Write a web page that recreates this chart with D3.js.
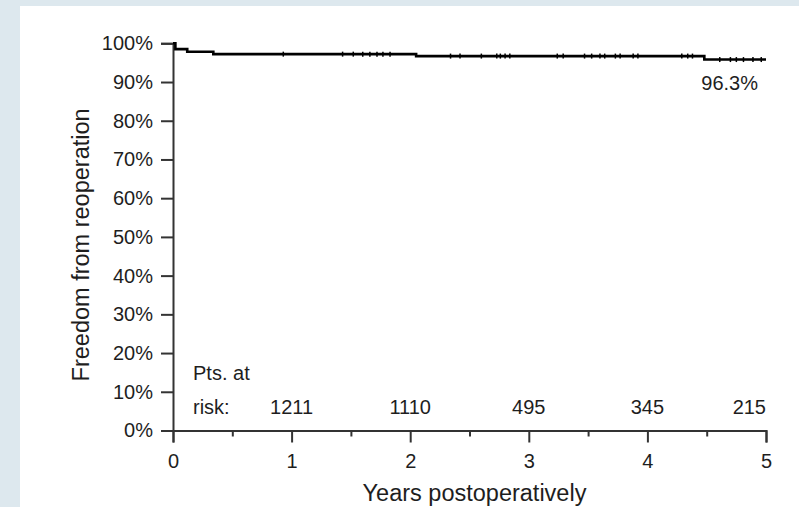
<!DOCTYPE html>
<html>
<head>
<meta charset="utf-8">
<script src="https://cdn.jsdelivr.net/npm/d3@7"></script>
<style>
  body { margin: 0; background: #dde8ee; }
  text { font-family: "Liberation Sans", Arial, sans-serif; fill: #1e1e1e; }
</style>
</head>
<body>
<div id="chart"></div>
<script>
// Kaplan-Meier steps (years, % free from reoperation)
const stepYears = [0, 0.02, 0.12, 0.34, 2.05, 4.48, 5.0];
const stepValues = [100, 98.5, 97.8, 97.2, 96.7, 95.8, 95.8];

// censored observations (years)
const censorYears = [0.93, 1.43, 1.52, 1.60, 1.66, 1.72, 1.77, 1.83,
  2.34, 2.42, 2.60, 2.73, 2.76, 2.80, 2.84, 3.24, 3.29, 3.47, 3.53, 3.60,
  3.64, 3.73, 3.77, 3.88, 3.92, 4.29, 4.34, 4.38, 4.61, 4.70, 4.75, 4.81,
  4.89, 4.96];

const riskYears = [1, 2, 3, 4, 5];
const riskCounts = [1211, 1110, 495, 345, 215];

const yTicks = [0, 10, 20, 30, 40, 50, 60, 70, 80, 90, 100];
const xTicks = [0, 1, 2, 3, 4, 5];
const xMinorTicks = [0.5, 1.5, 2.5, 3.5, 4.5];
const finalLabel = '96.3%';

const width = 799;
const height = 507;
const margin = { top: 43.3, right: 33, bottom: 76.5, left: 173 };
const chartWidth = width - margin.left - margin.right;
const chartHeight = height - margin.top - margin.bottom;

const svg = d3.select('#chart')
  .append('svg')
  .attr('width', width)
  .attr('height', height);

svg.append('rect')
  .attr('x', 20).attr('y', 6)
  .attr('width', width - 20).attr('height', height - 6)
  .attr('fill', '#fff');

const chart = svg.append('g')
  .attr('transform', `translate(${margin.left},${margin.top})`);

const xScale = d3.scaleLinear().domain([0, 5]).range([0, chartWidth]);
const yScale = d3.scaleLinear().domain([0, 100]).range([chartHeight, 0]);

// y axis
chart.append('g')
  .call(d3.axisLeft(yScale).tickValues(yTicks).tickSize(12).tickPadding(8)
    .tickFormat(d => d + '%'));

// x axis, major + minor ticks
chart.append('g')
  .attr('transform', `translate(0,${chartHeight})`)
  .call(d3.axisBottom(xScale).tickValues(xTicks).tickSize(12).tickPadding(11)
    .tickFormat(d3.format('d')));

chart.append('g')
  .attr('transform', `translate(0,${chartHeight})`)
  .call(d3.axisBottom(xScale).tickValues(xMinorTicks).tickSize(6).tickFormat(''))
  .call(g => g.select('.domain').remove());

chart.selectAll('.domain, .tick line')
  .attr('stroke', '#333')
  .attr('stroke-width', 2);
chart.selectAll('.tick text')
  .style('font-size', '20px')
  .attr('fill', '#1e1e1e');

// survival curve
const line = d3.line()
  .x((d, i) => xScale(stepYears[i]))
  .y(d => yScale(d))
  .curve(d3.curveStepAfter);

chart.append('path')
  .datum(stepValues)
  .attr('fill', 'none')
  .attr('stroke', '#000')
  .attr('stroke-width', 2.6)
  .attr('d', line);

const valueAt = t => stepValues[d3.bisectRight(stepYears, t) - 1];

chart.selectAll('.censor')
  .data(censorYears)
  .enter()
  .append('line')
  .attr('x1', d => xScale(d)).attr('x2', d => xScale(d))
  .attr('y1', d => yScale(valueAt(d)) - 2.5)
  .attr('y2', d => yScale(valueAt(d)) + 2.5)
  .attr('stroke', '#000')
  .attr('stroke-width', 1.5);

chart.append('text')
  .attr('x', xScale(5) - 8)
  .attr('y', yScale(stepValues[stepValues.length - 1]) + 30)
  .attr('text-anchor', 'end')
  .style('font-size', '20px')
  .text(finalLabel);

// patients at risk
chart.append('text')
  .attr('x', 20).attr('y', yScale(10) - 12)
  .style('font-size', '20px')
  .text('Pts. at');
chart.append('text')
  .attr('x', 20).attr('y', yScale(10) + 22)
  .style('font-size', '20px')
  .text('risk:');

chart.selectAll('.risk')
  .data(riskCounts)
  .enter()
  .append('text')
  .attr('x', (d, i) => xScale(riskYears[i]))
  .attr('y', yScale(10) + 22)
  .attr('text-anchor', (d, i) => i === riskCounts.length - 1 ? 'end' : 'middle')
  .style('font-size', '20px')
  .text(d => d);

// axis titles
chart.append('text')
  .attr('x', chartWidth / 2 + 5)
  .attr('y', chartHeight + 71)
  .attr('text-anchor', 'middle')
  .style('font-size', '23.5px')
  .text('Years postoperatively');

chart.append('text')
  .attr('transform', `translate(-84,${chartHeight / 2 + 8}) rotate(-90)`)
  .attr('text-anchor', 'middle')
  .style('font-size', '23.5px')
  .text('Freedom from reoperation');
</script>
</body>
</html>
